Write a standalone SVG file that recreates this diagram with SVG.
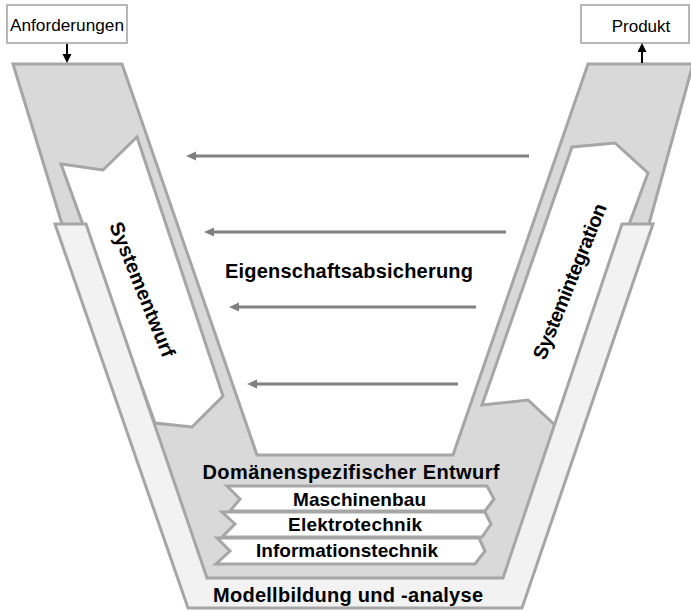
<svg xmlns="http://www.w3.org/2000/svg" width="691" height="611" viewBox="0 0 691 611">
<style>
.shape{stroke:#a6a6a6;stroke-width:3;stroke-linejoin:miter}
.vfill{fill:#d9d9d9}
.band{fill:#f2f2f2}
.white{fill:#ffffff}
.box{fill:#ffffff;stroke:#a0a0a0;stroke-width:1.5}
.lbl{font-family:"Liberation Sans",Arial,sans-serif;font-size:17px;fill:#000000}
.b{font-weight:bold;font-size:20px}
.s{font-size:19px}
.garrow{stroke:#808080;stroke-width:3;fill:none}
.karrow{stroke:#000000;stroke-width:2;fill:none}
</style>
<defs>
<marker id="gh" markerUnits="userSpaceOnUse" markerWidth="10" markerHeight="10" refX="2" refY="4.5" orient="auto">
<path d="M0,0 L10,4.5 L0,9 z" fill="#808080"/>
</marker>
<marker id="kh" markerUnits="userSpaceOnUse" markerWidth="10" markerHeight="10" refX="2" refY="4.5" orient="auto">
<path d="M0,0 L9,4.5 L0,9 z" fill="#000000"/>
</marker>
</defs>

<g id="v-shape">
<polygon class="shape vfill" points="13,64 122,64 257,455 453,455 588,64 693,64 649,224 515,595 195,595 62,224"/>
</g>

<g id="systementwurf">
<polygon class="shape white" points="61,164 103,170 137,137 223,396 192,427 155,423"/>
<text class="lbl b" transform="translate(136,292) rotate(68)" text-anchor="middle" textLength="144" lengthAdjust="spacing">Systementwurf</text>
</g>

<g id="systemintegration">
<polygon class="shape white" points="572,147 615,143 648,173 555,425 528,400 482,405"/>
<text class="lbl b" transform="translate(576,284) rotate(-68)" text-anchor="middle" textLength="166" lengthAdjust="spacing">Systemintegration</text>
</g>

<g id="modellbildung">
<polygon class="shape band" points="55,224 86,224 207,578 503,578 622,224 653,224 522,608 188,608"/>
<text class="lbl b" x="348" y="602" text-anchor="middle" textLength="270" lengthAdjust="spacing">Modellbildung und -analyse</text>
</g>

<g id="domaenenspezifisch">
<text class="lbl b" x="351" y="479" text-anchor="middle" textLength="297" lengthAdjust="spacing">Domänenspezifischer Entwurf</text>
</g>

<g id="maschinenbau">
<polygon class="shape white" points="227,486 487,486 494,499 485,511 230,511 240,499"/>
<text class="lbl b s" x="359.5" y="506" text-anchor="middle" textLength="133" lengthAdjust="spacing">Maschinenbau</text>
</g>

<g id="elektrotechnik">
<polygon class="shape white" points="222,512 485,512 491,524 482,537 222,537 235,524"/>
<text class="lbl b s" x="355" y="531" text-anchor="middle" textLength="134" lengthAdjust="spacing">Elektrotechnik</text>
</g>

<g id="informationstechnik">
<polygon class="shape white" points="217,538 479,538 485,551 475,564 216,564 230,551"/>
<text class="lbl b s" x="347" y="557" text-anchor="middle" textLength="182" lengthAdjust="spacing">Informationstechnik</text>
</g>

<g id="eigenschaftsabsicherung">
<text class="lbl b" x="349" y="278" text-anchor="middle" textLength="248" lengthAdjust="spacing">Eigenschaftsabsicherung</text>
</g>

<g id="anforderungen">
<rect class="box" x="7" y="5" width="120" height="38"/>
<text class="lbl" x="67" y="31" text-anchor="middle" textLength="114" lengthAdjust="spacingAndGlyphs">Anforderungen</text>
</g>

<g id="produkt">
<rect class="box" x="581" y="5" width="108" height="38"/>
<text class="lbl" x="641" y="32" text-anchor="middle">Produkt</text>
</g>

<g id="connectors">
<line class="garrow" x1="529" y1="156" x2="194" y2="156" marker-end="url(#gh)"/>
<line class="garrow" x1="506" y1="232" x2="212" y2="232" marker-end="url(#gh)"/>
<line class="garrow" x1="476" y1="307" x2="237" y2="307" marker-end="url(#gh)"/>
<line class="garrow" x1="458" y1="384" x2="255" y2="384" marker-end="url(#gh)"/>
<line class="karrow" x1="67" y1="44" x2="67" y2="56" marker-end="url(#kh)"/>
<line class="karrow" x1="642" y1="63" x2="642" y2="50" marker-end="url(#kh)"/>
</g>
</svg>
